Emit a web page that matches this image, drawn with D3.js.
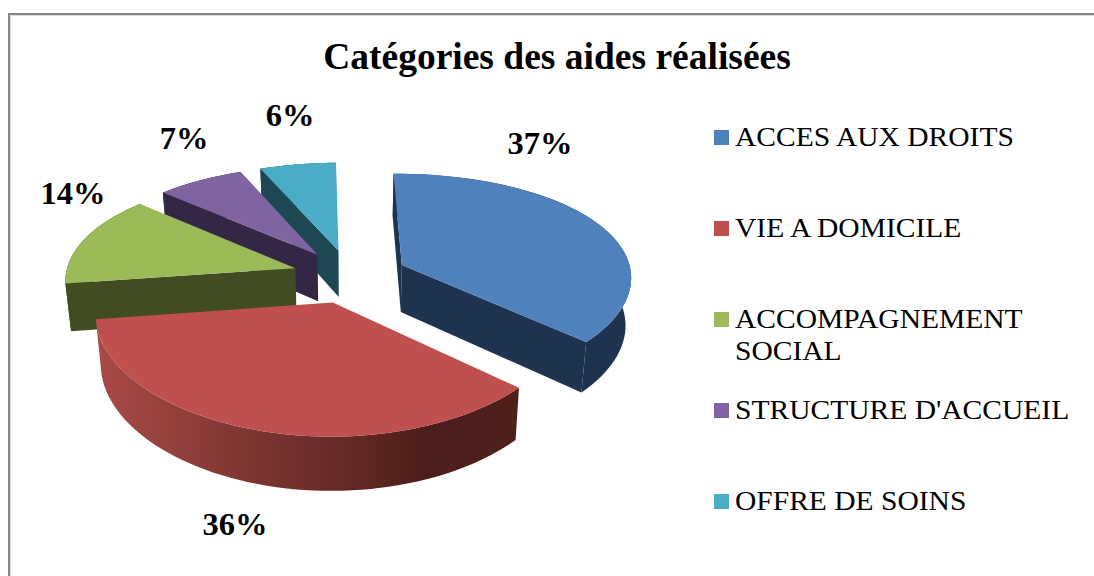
<!DOCTYPE html>
<html>
<head>
<meta charset="utf-8">
<script src="https://cdn.jsdelivr.net/npm/d3@7"></script>
<style>
  html, body { margin: 0; background: #fff; }
  svg { display: block; }
  text { font-family: "Liberation Serif", "Times New Roman", serif; fill: #000; }
</style>
</head>
<body>
<div id="chart"></div>
<script>
const title = 'Catégories des aides réalisées'
const categories = ['ACCES AUX DROITS', 'VIE A DOMICILE', 'ACCOMPAGNEMENT SOCIAL', "STRUCTURE D'ACCUEIL", 'OFFRE DE SOINS']
const values = [37, 36, 14, 7, 6]
const topColors = ['#4f81bd', '#c0504d', '#9bbb59', '#8064a2', '#4bacc6']
const wallColors = ['#1e3350', '#4a1c1a', '#414c23', '#332745', '#1d4853']
const redWallStops = ['#a84a47', '#8a3b37', '#6e2d2c', '#4c1e1b', '#4f1f1c']
const labelAnchors = [[540, 142], [235, 523], [73, 192], [184, 137], [290, 114]]
// slices are painted back to front
const paintOrder = [4, 3, 2, 0, 1]

const width = 1094, height = 576
const center = { x: 350, y: 276 }
const rx = 230, ry = 107
const perspectiveX = 0.1, perspectiveY = 0.141   // far side of the disc shrinks
const thickness = 47.5
const taper = 0.02         // bottom rim pulls in a little
const explode = 0.25
const firstAngle = -Math.PI / 180

const svg = d3.select('#chart').append('svg')
    .attr('width', width)
    .attr('height', height)

// frame, only top and left are in the picture
svg.append('path').attr('d', d3.line()([[width, 15.5], [10.5, 15.5], [10.5, height]]))
    .attr('fill', 'none').attr('stroke', '#dcdcdc').attr('stroke-width', 1)
svg.append('path').attr('d', d3.line()([[width, 14], [9, 14], [9, height]]))
    .attr('fill', 'none').attr('stroke', '#868686').attr('stroke-width', 2)

const project = (X, Y, z) => {
    const px = 1 / (1 + perspectiveX * Y)
    const py = 1 / (1 + perspectiveY * Y)
    return [
        center.x + rx * X * px * (1 - taper * z),
        center.y - ry * Y * py + thickness * z * px
    ]
}

const pie = d3.pie().sort(null).value(d => d)
    .startAngle(firstAngle)
    .endAngle(firstAngle + 2 * Math.PI)
const slices = pie(values).map((s, i) => {
    const mid = (s.startAngle + s.endAngle) / 2
    return { ...s, i, ox: explode * Math.sin(mid), oy: explode * Math.cos(mid) }
})

const rim = (s, z) => d3.range(0, 61).map(k => {
    const a = s.startAngle + (s.endAngle - s.startAngle) * k / 60
    return project(s.ox + Math.sin(a), s.oy + Math.cos(a), z)
})

const closed = d3.line().curve(d3.curveLinearClosed)

const defs = svg.append('defs')
const gradient = defs.append('linearGradient')
    .attr('id', 'red-wall')
    .attr('gradientUnits', 'userSpaceOnUse')
    .attr('x1', 100).attr('x2', 520).attr('y1', 0).attr('y2', 0)
const stopAt = [0, 0.25, 0.5, 0.78, 1]
redWallStops.forEach((c, i) => gradient.append('stop').attr('offset', stopAt[i]).attr('stop-color', c))

const pieGroup = svg.append('g')
paintOrder.forEach(i => {
    const s = slices[i]
    const g = pieGroup.append('g')
    const topRim = rim(s, 0)
    const bottomRim = rim(s, 1)
    const apexTop = project(s.ox, s.oy, 0)
    const apexBottom = project(s.ox, s.oy, 1)

    g.append('path')
        .attr('d', closed([...topRim, ...bottomRim.slice().reverse()]))
        .attr('fill', i === 1 ? 'url(#red-wall)' : wallColors[i])

    // cut faces, kept only when they look at the camera
    const startWall = [apexTop, topRim[0], bottomRim[0], apexBottom]
    const endWall = [apexTop, topRim[60], bottomRim[60], apexBottom]
    if (d3.polygonArea(startWall) > 0) {
        g.append('path').attr('d', closed(startWall)).attr('fill', wallColors[i])
    }
    if (d3.polygonArea(endWall) < 0) {
        g.append('path').attr('d', closed(endWall)).attr('fill', wallColors[i])
    }

    g.append('path')
        .attr('d', closed([apexTop, ...topRim]))
        .attr('fill', topColors[i])
})

svg.append('text')
    .attr('x', 557)
    .attr('y', 69)
    .attr('text-anchor', 'middle')
    .attr('font-size', 37.5)
    .attr('font-weight', 'bold')
    .text(title)

svg.append('g').selectAll('text')
    .data(slices)
    .join('text')
    .attr('x', d => labelAnchors[d.i][0])
    .attr('y', d => labelAnchors[d.i][1])
    .attr('dy', '0.36em')
    .attr('text-anchor', 'middle')
    .attr('font-size', 32.5)
    .attr('font-weight', 'bold')
    .text(d => `${d.value}%`)

// legend
const legendY = d3.scalePoint().domain(categories).range([137.5, 501.5])
const legend = svg.append('g').selectAll('g')
    .data(categories)
    .join('g')
    .attr('transform', d => `translate(714,${legendY(d)})`)

legend.append('rect')
    .attr('y', -7.5)
    .attr('width', 15)
    .attr('height', 15)
    .attr('fill', (d, i) => topColors[i])

// the reference text is a little wider than tall
legend.append('text')
    .attr('transform', 'translate(21,8.5) scale(1.055,1)')
    .attr('font-size', 28)
    .each(function (d) {
        // wrap on words when the name runs past the frame
        const el = d3.select(this)
        let line = el.append('tspan').attr('x', 0)
        d.split(' ').forEach(word => {
            const before = line.text()
            line.text(before ? `${before} ${word}` : word)
            if (line.node().getComputedTextLength() > 330 && before) {
                line.text(before)
                line = el.append('tspan').attr('x', 0).attr('dy', 32).text(word)
            }
        })
    })
</script>
</body>
</html>
